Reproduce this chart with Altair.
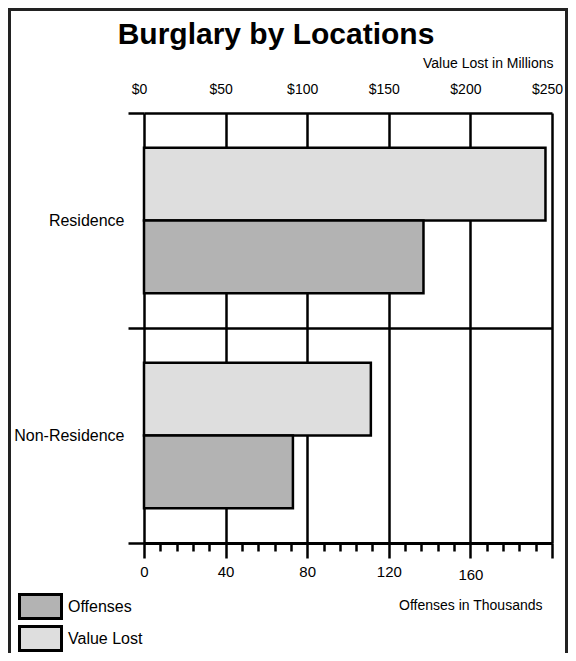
import altair as alt
import pandas as pd

categories = ["Residence", "Non-Residence"]
offenses_thousands = [137, 73]
value_lost_millions = [246, 139]
series_names = ["Value Lost", "Offenses"]
legend_order = ["Offenses", "Value Lost"]
series_colors = ["#b3b3b3", "#dedede"]
offense_ticks = list(range(0, 201, 8))
value_ticks = [0, 50, 100, 150, 200, 250]

FONT = "Liberation Sans"

df_value = pd.DataFrame({"category": categories, "series": "Value Lost", "amount": value_lost_millions})
df_off = pd.DataFrame({"category": categories, "series": "Offenses", "amount": offenses_thousands})

y_enc = alt.Y(
    "category:N",
    sort=categories,
    scale=alt.Scale(domain=categories, paddingInner=0, paddingOuter=0),
    axis=alt.Axis(
        title=None, tickBand="extent", grid=True, gridColor="black", gridWidth=2.5,
        domain=False, ticks=True, tickSize=16, tickColor="black", tickWidth=2.5,
        labelFontSize=16, labelPadding=4, labelColor="black", labelFont=FONT,
    ),
)
yoff_enc = alt.YOffset(
    "series:N", sort=series_names,
    scale=alt.Scale(domain=series_names, paddingInner=0, paddingOuter=0.48),
)
color_enc = alt.Color(
    "series:N",
    scale=alt.Scale(domain=legend_order, range=series_colors),
    legend=alt.Legend(
        title=None, orient="none", legendX=-117, legendY=480,
        symbolType="M-1.75,-1H1.75V1H-1.75Z", symbolSize=576,
        symbolStrokeColor="black", symbolStrokeWidth=3, symbolOpacity=1,
        labelFontSize=16, labelOffset=14, rowPadding=-7, labelColor="black",
        labelFont=FONT, padding=0,
    ),
)

value_bars = alt.Chart(df_value).mark_bar(stroke="black", strokeWidth=2.5, opacity=1).encode(
    x=alt.X(
        "amount:Q",
        scale=alt.Scale(domain=[0, 250], nice=False),
        axis=alt.Axis(
            orient="top", values=value_ticks, labelExpr="'$' + datum.value",
            ticks=False, domain=False, grid=False, labelFontSize=14, labelPadding=17,
            labelOffset=-5, labelFlush=False, labelOverlap=False,
            title="Value Lost in Millions", titleFontSize=14, titleFontWeight="normal",
            titleX=409, titleY=-50, titleAlign="right", titleBaseline="middle",
        ),
    ),
    y=y_enc,
    yOffset=yoff_enc,
    color=color_enc,
)

off_bars = alt.Chart(df_off).mark_bar(stroke="black", strokeWidth=2.5, opacity=1).encode(
    x=alt.X(
        "amount:Q",
        scale=alt.Scale(domain=[0, 200], nice=False),
        axis=alt.Axis(
            orient="bottom", values=offense_ticks,
            labelExpr="datum.value % 40 === 0 && datum.value < 200 ? datum.label : ''",
            tickSize=alt.condition("datum.value % 40 === 0", alt.value(15), alt.value(8)),
            tickColor="black", tickWidth=2.5,
            grid=True, gridColor="black", gridWidth=2.5,
            gridOpacity=alt.condition("datum.value % 40 === 0", alt.value(1), alt.value(0)),
            domain=True, domainColor="black", domainWidth=3,
            labelFontSize=15,
            labelPadding=alt.condition("datum.value === 160", alt.value(9), alt.value(6)),
            labelFlush=False, labelOverlap=False,
            title="Offenses in Thousands", titleFontSize=14, titleFontWeight="normal",
            titleX=398, titleY=62, titleAlign="right", titleBaseline="middle",
        ),
    ),
    y=y_enc,
    yOffset=yoff_enc,
    color=color_enc,
)

frame = alt.Chart(pd.DataFrame({"k": [0]})).mark_rect(
    fillOpacity=0, stroke="#222222", strokeWidth=3
).encode(
    x=alt.value(-134.5), x2=alt.value(422.5), y=alt.value(-103.5), y2=alt.value(700)
)

chart = (
    alt.layer(frame, value_bars, off_bars)
    .resolve_scale(x="independent")
    .resolve_axis(x="independent")
    .properties(
        width=408, height=430,
        padding={"left": 136, "top": 105, "right": 16, "bottom": 110},
        autosize=alt.AutoSizeParams(type="none"),
        title=alt.TitleParams(
            "Burglary by Locations", fontSize=30, fontWeight="bold", font=FONT,
            anchor="middle", dx=-72, dy=46, offset=4, color="black",
        ),
    )
    .configure(font=FONT)
    .configure_view(strokeWidth=0)
    .configure_axis(labelColor="black", titleColor="black", labelFont=FONT, titleFont=FONT)
)

chart.save("out.html", embed_options={"renderer": "svg", "actions": False})
